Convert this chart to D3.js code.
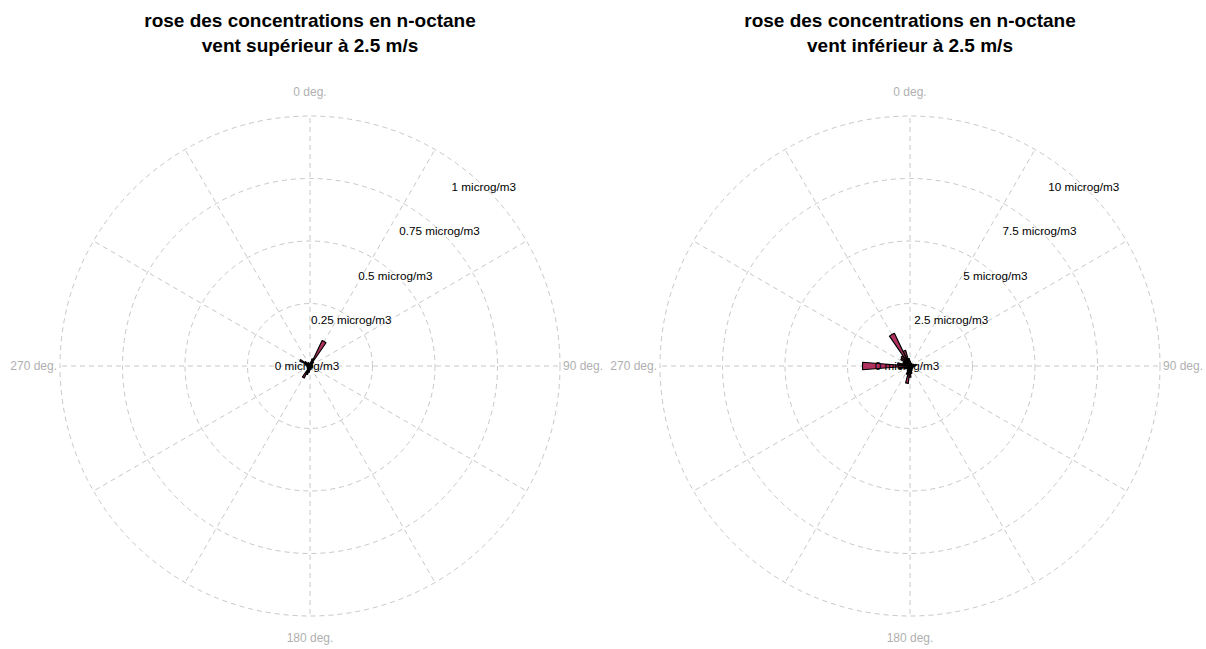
<!DOCTYPE html>
<html>
<head>
<meta charset="utf-8">
<script src="https://cdn.jsdelivr.net/npm/d3@7"></script>
<style>
  body { margin: 0; background: #fff; }
  svg { display: block; font-family: "Liberation Sans", Arial, sans-serif; }
</style>
</head>
<body>
<svg id="chart" width="1206" height="649"></svg>
<script>
// Wind direction bins (degrees, clockwise from north)
const directions = d3.range(0, 360, 10);

// Mean n-octane concentration per direction bin, wind > 2.5 m/s
const octaneHighWind = [
  0.01, 0.015, 0.03, 0.113, 0.02, 0.01, 0.008, 0.01, 0.008, 0.01,
  0.01, 0.008, 0.01, 0.008, 0.008, 0.008, 0.01, 0.01, 0.015, 0.025,
  0.035, 0.053, 0.015, 0.01, 0.012, 0.01, 0.012, 0.01, 0.015, 0.02,
  0.045, 0.025, 0.012, 0.015, 0.01, 0.01
];

// Mean n-octane concentration per direction bin, wind < 2.5 m/s
const octaneLowWind = [
  0.2, 0.12, 0.1, 0.12, 0.08, 0.1, 0.12, 0.15, 0.25, 0.2,
  0.15, 0.12, 0.1, 0.12, 0.12, 0.15, 0.2, 0.3, 0.45, 0.7,
  0.35, 0.2, 0.15, 0.15, 0.2, 0.25, 0.45, 1.9, 0.5, 0.3,
  0.3, 0.45, 0.5, 1.45, 0.65, 0.3
];

const ringsHigh = [0, 0.25, 0.5, 0.75, 1];
const ringsLow = [0, 2.5, 5, 7.5, 10];
const ringLabelsHigh = ["0 microg/m3", "0.25 microg/m3", "0.5 microg/m3", "0.75 microg/m3", "1 microg/m3"];
const ringLabelsLow = ["0 microg/m3", "2.5 microg/m3", "5 microg/m3", "7.5 microg/m3", "10 microg/m3"];
const spokeAngles = d3.range(0, 360, 30);
const compassLabels = [
  { angle: 0, text: "0 deg." },
  { angle: 90, text: "90 deg." },
  { angle: 180, text: "180 deg." },
  { angle: 270, text: "270 deg." }
];

const titlesHigh = ["rose des concentrations en n-octane", "vent supérieur à 2.5 m/s"];
const titlesLow = ["rose des concentrations en n-octane", "vent inférieur à 2.5 m/s"];

const svg = d3.select("#chart");
const outerR = 250;
const rad = d => d * Math.PI / 180;

function drawRose(cx, cy, values, rings, ringLabels, titles) {
  const g = svg.append("g");
  const r = d3.scaleLinear().domain([0, rings[rings.length - 1]]).range([0, outerR]);
  const p = (deg, rr) => [cx + rr * Math.sin(rad(deg)), cy - rr * Math.cos(rad(deg))];

  // title
  g.selectAll("text.title").data(titles).join("text")
    .attr("class", "title")
    .attr("x", cx).attr("y", (d, i) => 27 + i * 25)
    .attr("text-anchor", "middle")
    .attr("font-size", 19).attr("font-weight", "bold")
    .attr("fill", "#000")
    .text(d => d);

  // concentric rings
  g.selectAll("circle.ring").data(rings.slice(1)).join("circle")
    .attr("cx", cx).attr("cy", cy).attr("r", d => r(d))
    .attr("fill", "none").attr("stroke", "#c8c8c8")
    .attr("stroke-width", 1).attr("stroke-dasharray", "5,4");

  // direction spokes
  g.selectAll("line.spoke").data(spokeAngles).join("line")
    .attr("x1", cx).attr("y1", cy)
    .attr("x2", d => p(d, outerR)[0]).attr("y2", d => p(d, outerR)[1])
    .attr("stroke", "#c8c8c8").attr("stroke-width", 1).attr("stroke-dasharray", "5,4");

  // compass labels
  g.selectAll("text.compass").data(compassLabels).join("text")
    .attr("x", d => d.angle === 90 ? cx + outerR + 3 : d.angle === 270 ? cx - outerR - 3 : cx)
    .attr("y", d => d.angle === 0 ? cy - outerR - 20 : d.angle === 180 ? cy + outerR + 26 : cy + 4)
    .attr("text-anchor", d => d.angle === 90 ? "start" : d.angle === 270 ? "end" : "middle")
    .attr("font-size", 12).attr("fill", "#b0b0b0")
    .text(d => d.text);

  // wedges
  const arc = d3.arc().innerRadius(0);
  const half = rad(4.5);
  g.selectAll("path.bar").data(directions.map((d, i) => ({ dir: d, v: values[i] }))).join("path")
    .attr("transform", `translate(${cx},${cy})`)
    .attr("d", d => arc({ outerRadius: r(d.v), startAngle: rad(d.dir) - half, endAngle: rad(d.dir) + half }))
    .attr("fill", "#B03060").attr("stroke", "#000").attr("stroke-width", 1.2)
    .attr("stroke-linejoin", "round");

  // ring value labels along the 45 degree line
  g.selectAll("text.ringlab").data(rings).join("text")
    .attr("x", (d, i) => p(45, r(d))[0] - (i === 0 ? 3 : 3))
    .attr("y", (d, i) => p(45, r(d))[1] + (i === 0 ? 4 : 2))
    .attr("text-anchor", "middle")
    .attr("font-size", 11.7).attr("fill", "#000")
    .text((d, i) => ringLabels[i]);
}

drawRose(310, 366, octaneHighWind, ringsHigh, ringLabelsHigh, titlesHigh);
drawRose(910, 366, octaneLowWind, ringsLow, ringLabelsLow, titlesLow);
</script>
</body>
</html>
